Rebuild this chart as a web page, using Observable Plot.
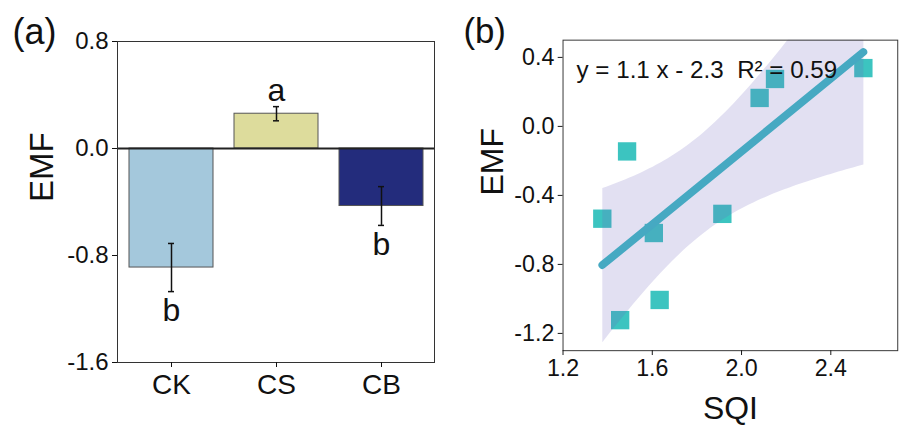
<!DOCTYPE html>
<html><head><meta charset="utf-8">
<script src="https://cdn.jsdelivr.net/npm/d3@7"></script>
<script src="https://cdn.jsdelivr.net/npm/@observablehq/plot@0.6"></script>
<style>
html,body{margin:0;padding:0;background:#fff;overflow:hidden;width:905px;height:441px;}
#wrap{position:relative;width:905px;height:441px;overflow:hidden;}
#a{position:absolute;left:0;top:0;}
#b{position:absolute;left:460px;top:0;}
</style></head><body><div id="wrap"><div id="a"></div><div id="b"></div></div>
<script>
// Panel (a) data
const treatments = ["CK", "CS", "CB"];
const emfMean = [-0.89, 0.26, -0.43];
const emfSE = [0.18, 0.053, 0.145];
const sigLetters = ["b", "a", "b"];
const barColors = ["#a4c8dc", "#dddc9c", "#232c7c"];
const barTicks = [-1.6, -0.8, 0, 0.8];

// Panel (b) data
const sqi = [1.376, 1.487, 1.456, 1.607, 1.633, 1.914, 2.081, 2.15, 2.546];
const emf = [-0.535, -0.145, -1.123, -0.618, -1.006, -0.507, 0.165, 0.275, 0.338];
const sqiTicks = [1.2, 1.6, 2.0, 2.4];
const emfTicks = [-1.2, -0.8, -0.4, 0, 0.4];
const equation = "y = 1.1 x - 2.3  R² = 0.59";

const font = "'Liberation Sans', Arial, Helvetica, sans-serif";
const fmt = d => d.toFixed(1);

const bars = treatments.map((t, i) => ({
  t, m: emfMean[i], lo: emfMean[i] - emfSE[i], hi: emfMean[i] + emfSE[i], letter: sigLetters[i]
}));

const pa = Plot.plot({
  width: 460, height: 441,
  marginLeft: 117, marginRight: 26, marginTop: 41, marginBottom: 79,
  style: {fontFamily: font, background: "white", color: "#111"},
  x: {domain: treatments, paddingInner: 0.2, paddingOuter: 0.1},
  y: {domain: [-1.6, 0.8]},
  color: {domain: treatments, range: barColors},
  marks: [
    Plot.barY(bars, {x: "t", y: "m", fill: "t", stroke: "#555", strokeWidth: 1}),
    Plot.ruleY([0], {stroke: "#222", strokeWidth: 2}),
    Plot.ruleX(bars, {x: "t", y1: "lo", y2: "hi", stroke: "#111", strokeWidth: 1.5}),
    Plot.tickY(bars, {x: "t", y: "lo", insetLeft: 39, insetRight: 39, stroke: "#111", strokeWidth: 1.5}),
    Plot.tickY(bars, {x: "t", y: "hi", insetLeft: 39, insetRight: 39, stroke: "#111", strokeWidth: 1.5}),
    Plot.text(bars.filter(d => d.m > 0), {x: "t", y: "hi", text: "letter", dy: -16, fontSize: 32, fill: "#111"}),
    Plot.text(bars.filter(d => d.m < 0), {x: "t", y: "lo", text: "letter", dy: 19, fontSize: 32, fill: "#111"}),
    Plot.frame({stroke: "#333"}),
    Plot.axisY(barTicks, {tickFormat: fmt, tickSize: 5, tickPadding: 4, fontSize: 24, label: null}),
    Plot.axisX({tickSize: 5, tickPadding: 7, fontSize: 28, label: null}),
    Plot.text(["EMF"], {frameAnchor: "left", dx: -75, rotate: -90, fontSize: 33, lineAnchor: "middle", text: d => d, fill: "#111"}),
    Plot.text(["(a)"], {frameAnchor: "top-left", dx: -105, dy: -9, fontSize: 36, textAnchor: "start", lineAnchor: "middle", text: d => d, fill: "#111"})
  ]
});
document.getElementById("a").append(pa);

const pts = sqi.map((x, i) => ({x, y: emf[i]}));

const pb = Plot.plot({
  width: 460, height: 441,
  marginLeft: 106, marginRight: 8, marginTop: 41, marginBottom: 79,
  style: {fontFamily: font, background: "white", color: "#111"},
  x: {domain: [1.2, 2.7]},
  y: {domain: [-1.3, 0.5]},
  marks: [
    Plot.dot(pts, {x: "x", y: "y", symbol: "square", r: 10.7, fill: "#3cc4c0"}),
    Plot.linearRegressionY(pts, {x: "x", y: "y", stroke: "#46a9c2", strokeWidth: 8, strokeLinecap: "round",
      fill: "#6e64be", fillOpacity: 0.2, clip: true}),
    Plot.text([equation], {frameAnchor: "top-left", dx: 14, dy: 31, fontSize: 25, textAnchor: "start", lineAnchor: "middle", text: d => d, fill: "#111"}),
    Plot.frame({stroke: "#333"}),
    Plot.axisY(emfTicks, {tickFormat: fmt, tickSize: 5, tickPadding: 4, fontSize: 24, label: null}),
    Plot.axisX(sqiTicks, {tickFormat: fmt, tickSize: 5, tickPadding: 4, fontSize: 24, label: null}),
    Plot.text(["EMF"], {frameAnchor: "left", dx: -73, rotate: -90, fontSize: 33, lineAnchor: "middle", text: d => d, fill: "#111"}),
    Plot.text(["SQI"], {frameAnchor: "bottom", dy: 60, fontSize: 33, lineAnchor: "middle", text: d => d, fill: "#111"}),
    Plot.text(["(b)"], {frameAnchor: "top-left", dx: -103, dy: -9, fontSize: 36, textAnchor: "start", lineAnchor: "middle", text: d => d, fill: "#111"})
  ]
});
document.getElementById("b").append(pb);
</script>
</body></html>
